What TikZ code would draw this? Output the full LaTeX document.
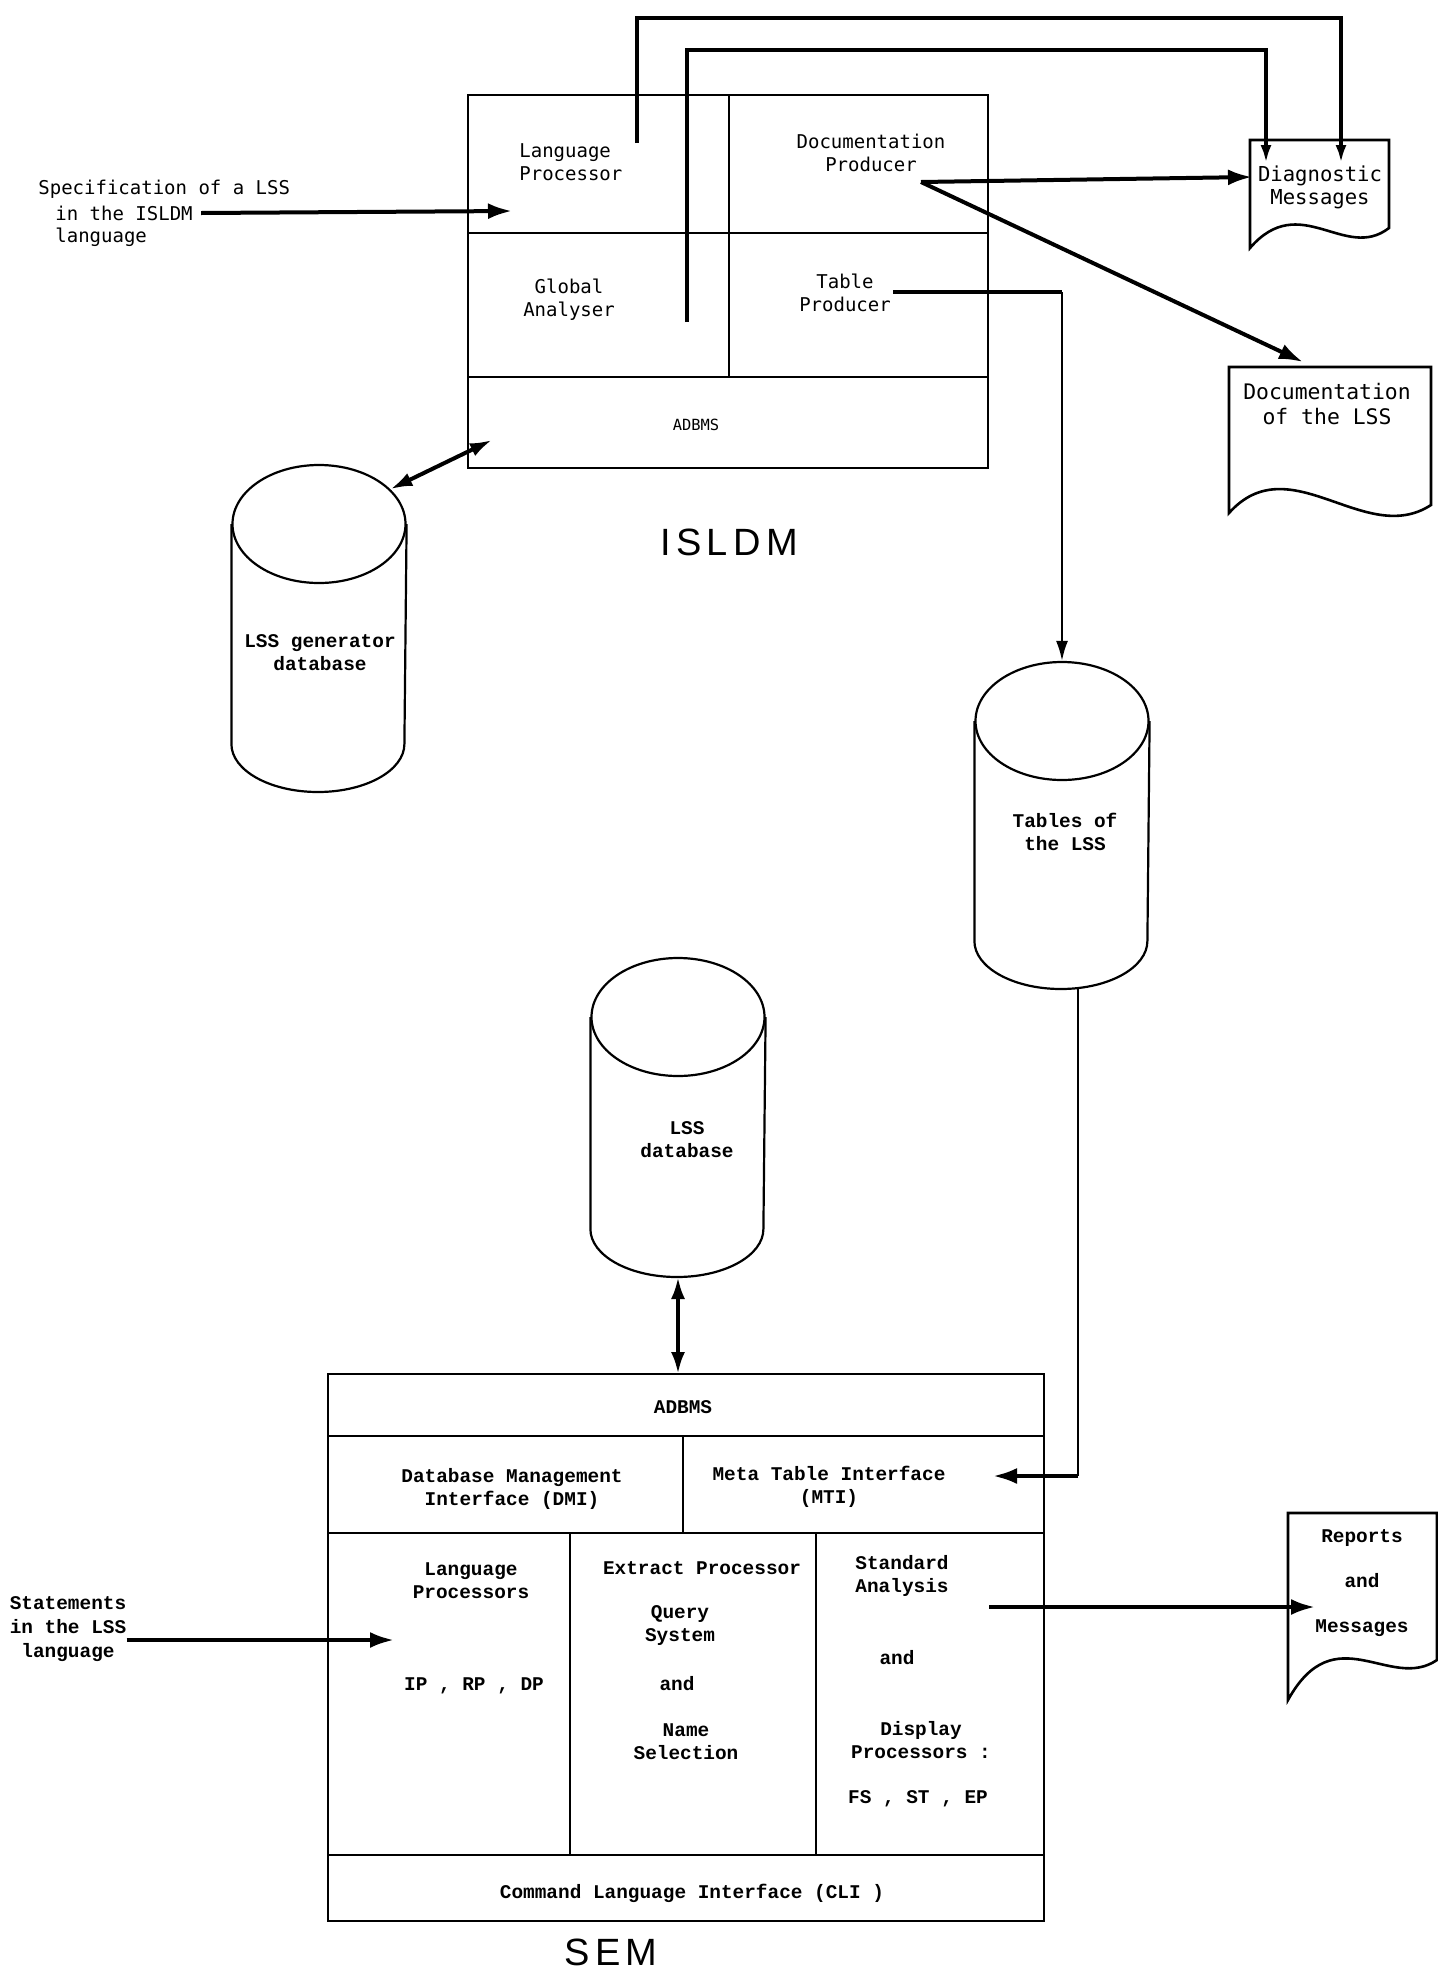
\documentclass[tikz,border=0pt]{standalone}
\usepackage{fontspec}
\usepackage{tikz}
\usetikzlibrary{arrows.meta,shapes.geometric}
\newfontfamily\gothic{DejaVu Sans Mono}
\newfontfamily\elite{Liberation Mono}
\newfontfamily\helv[LetterSpace=14]{Liberation Sans}

\begin{document}
\begin{tikzpicture}[x=0.5pt,y=0.5pt,yscale=-1,xscale=1,
  frame/.style={line width=1pt},
  semframe/.style={line width=1.3pt},
  flow/.style={line width=2pt,-{Latex[length=12pt,width=8pt]}},
  backflow/.style={line width=1.8pt,-{Latex[length=9pt,width=5.5pt]}},
  thinflow/.style={line width=1.1pt,-{Latex[length=10pt,width=6pt]}},
  twoway/.style={line width=2pt,{Latex[length=11pt,width=7pt]}-{Latex[length=11pt,width=7pt]}},
  gtxt/.style={font=\gothic\fontsize{9.5}{11.5}\selectfont,align=center,inner sep=0pt},
  etxt/.style={font=\elite\bfseries\fontsize{9.7}{11.5}\selectfont,align=center,inner sep=0pt},
  cantop/.style={draw,ellipse,line width=1.1pt,minimum width=86.5pt,minimum height=59pt,inner sep=0pt},
  title/.style={font=\helv\fontsize{19}{19}\selectfont,inner sep=0pt}]
\useasboundingbox (0,0) rectangle (1438,1976);

%Shape: Rectangle ISLDM
\draw[frame] (468,95) rectangle (988,468) ;
%Straight Lines
\draw[frame] (729,95) -- (729,377) ;
%Straight Lines
\draw[frame] (468,233) -- (988,233) ;
%Straight Lines
\draw[frame] (468,377) -- (988,377) ;

% Text Node
\node[gtxt,align=left,anchor=west] (lang) at (519,162) {Language\\Processor};
% Text Node
\node[gtxt] (docp) at (871,153) {Documentation\\Producer};
% Text Node
\node[gtxt] (glob) at (569,300) {Global\\Analyser};
% Text Node
\node[gtxt] (tabp) at (845,293) {Table\\Producer};
% Text Node
\node[gtxt,font=\gothic\fontsize{7.7}{9}\selectfont] (adbi) at (696,425) {ADBMS};
% Text Node
\node[title] (isldm) at (729,542) {ISLDM};

% Text Node
\node[gtxt,anchor=west] (spec1) at (38,189) {Specification of a LSS};
% Text Node
\node[gtxt,anchor=west] (spec2) at (55,213) {in the ISLDM};
% Text Node
\node[gtxt,anchor=west] (spec3) at (55,237) {language};

%Flowchart: Document
\draw[frame,line width=1.3pt] (1250,248) -- (1250,140) -- (1389,140) -- (1389,228) .. controls (1345,262) and (1300,190) .. (1250,248) -- cycle ;
% Text Node
\node[gtxt,font=\gothic\fontsize{10.3}{11.5}\selectfont] (diag) at (1320,187) {Diagnostic\\Messages};
%Flowchart: Document
\draw[frame,line width=1.3pt] (1229,513) -- (1229,367) -- (1431,367) -- (1431,505) .. controls (1365,548) and (1290,445) .. (1229,513) -- cycle ;
% Text Node
\node[gtxt,font=\gothic\fontsize{10.7}{12.5}\selectfont] (docu) at (1327,404) {Documentation\\of the LSS};

%Shape: Can
\node[cantop] (gentop) at (319,524) {};
\draw[line width=1.1pt] (gentop.west) -- ++(0,220) arc[start angle=180,end angle=0,x radius=86.5,y radius=48] -- (gentop.east) ;
% Text Node
\node[etxt] (gen) at (320,653) {LSS generator\\database};
%Shape: Can
\node[cantop] (tabtop) at (1062,721) {};
\draw[line width=1.1pt] (tabtop.west) -- ++(0,220) arc[start angle=180,end angle=0,x radius=86.5,y radius=48] -- (tabtop.east) ;
% Text Node
\node[etxt] (tabs) at (1065,832) {Tables of\\the LSS};
%Shape: Can
\node[cantop] (dbtop) at (678,1017) {};
\draw[line width=1.1pt] (dbtop.west) -- ++(0,212) arc[start angle=180,end angle=0,x radius=86.5,y radius=48] -- (dbtop.east) ;
% Text Node
\node[etxt] (lssdb) at (687,1140) {LSS\\database};

%Shape: Rectangle SEM
\draw[semframe] (328,1374) rectangle (1044,1921) ;
%Straight Lines
\draw[semframe] (328,1436) -- (1044,1436) ;
%Straight Lines
\draw[semframe] (328,1533) -- (1044,1533) ;
%Straight Lines
\draw[semframe] (328,1855) -- (1044,1855) ;
%Straight Lines
\draw[semframe] (683,1436) -- (683,1533) ;
%Straight Lines
\draw[semframe] (570,1533) -- (570,1855) ;
%Straight Lines
\draw[semframe] (816,1533) -- (816,1855) ;

% Text Node
\node[etxt] (adbs) at (683,1407) {ADBMS};
% Text Node
\node[etxt] (dmi) at (512,1489) {Database Management\\Interface (DMI)};
% Text Node
\node[etxt] (mti) at (829,1487) {Meta Table Interface\\(MTI)};
% Text Node
\node[etxt] (lproc) at (471,1581) {Language\\Processors};
% Text Node
\node[etxt] (iprpdp) at (474,1686) {IP , RP , DP};
% Text Node
\node[etxt] (extr) at (702,1568) {Extract Processor};
% Text Node
\node[etxt] (query) at (680,1626) {Query\\System};
% Text Node
\node[etxt] (andq) at (677,1684) {and};
% Text Node
\node[etxt] (namesel) at (686,1742) {Name\\Selection};
% Text Node
\node[etxt] (stdan) at (902,1576) {Standard\\Analysis};
% Text Node
\node[etxt] (andd) at (897,1658) {and};
% Text Node
\node[etxt] (disp) at (921,1740) {Display\\Processors :};
% Text Node
\node[etxt] (fsstep) at (918,1799) {FS , ST , EP};
% Text Node
\node[etxt] (cli) at (692,1893) {Command Language Interface (CLI )};
% Text Node
\node[title] (sem) at (611,1952) {SEM};

% Text Node
\node[etxt,font=\elite\bfseries\fontsize{9.7}{11.8}\selectfont] (stmt) at (68,1629) {Statements\\in the LSS\\language};
%Flowchart: Document
\draw[semframe] (1288,1700) -- (1288,1513) -- (1437,1513) -- (1437,1660) .. controls (1390,1692) and (1335,1615) .. (1288,1700) -- cycle ;
% Text Node
\node[etxt,font=\elite\bfseries\fontsize{9.7}{22.5}\selectfont] (rep) at (1362,1583) {Reports\\and\\Messages};

% connector ends
\coordinate (lpin) at (512,211) ;
\coordinate (lpout) at (637,143) ;
\coordinate (gaout) at (687,322) ;
\coordinate (dpout) at (921,182) ;
\coordinate (tpout) at (893,292) ;
\coordinate (adin) at (492,440) ;
\coordinate (diagin) at (1252,177) ;
\coordinate (diagl) at (1266,163) ;
\coordinate (diagr) at (1341,163) ;
\coordinate (docuin) at (1303,362) ;
\coordinate (tabbot) at (1078,988) ;
\coordinate (mtiin) at (993,1476) ;
\coordinate (dbbot) at (678,1277) ;
\coordinate (semtop) at (678,1374) ;
\coordinate (lpin2) at (394,1640) ;
\coordinate (saout) at (989,1607) ;

%Straight Lines
\draw[flow] ([xshift=4pt]spec2.east) -- (lpin) ;
%Straight Lines
\draw[backflow] (lpout) -- ++(0,-125) -| (diagr) ;
%Straight Lines
\draw[backflow] (gaout) -- ++(0,-272) -| (diagl) ;
%Straight Lines
\draw[flow] (dpout) -- (diagin) ;
%Straight Lines
\draw[flow] (dpout) -- (docuin) ;
%Straight Lines
\draw[line width=2pt] (tpout) -- (tpout -| tabtop.north) ;
\draw[thinflow] (tpout -| tabtop.north) -- (tabtop.north) ;
%Straight Lines
\draw[twoway] (gentop.26) -- (adin) ;
%Straight Lines
\draw[line width=1.1pt] (tabbot) -- (tabbot |- mtiin) ;
\draw[flow] (tabbot |- mtiin) -- (mtiin) ;
%Straight Lines
\draw[twoway] (dbbot) -- (semtop) ;
%Straight Lines
\draw[flow] (stmt.east |- lpin2) -- (lpin2) ;
%Straight Lines
\draw[flow] (saout) -- (saout -| rep.west) ;

\end{tikzpicture}
\end{document}
